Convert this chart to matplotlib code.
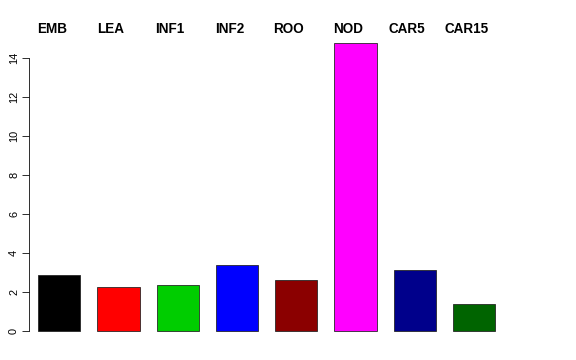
import matplotlib
matplotlib.use("Agg")
import matplotlib.pyplot as plt

categories = ["EMB", "LEA", "INF1", "INF2", "ROO", "NOD", "CAR5", "CAR15"]
values = [2.85, 2.25, 2.34, 3.37, 2.60, 14.80, 3.11, 1.40]
colors = ["#000000", "#FF0000", "#00CD00", "#0000FF", "#8B0000", "#FF00FF", "#00008B", "#006400"]
yticks = [0, 2, 4, 6, 8, 10, 12, 14]

plt.rcParams['font.family'] = ['Liberation Sans', 'DejaVu Sans']

W, H = 576, 360
fig = plt.figure(figsize=(W / 72, H / 72), dpi=72)

# axes in pixel coords
left_px, right_px = 29, 560
bottom_px, top_px = 342.5, 31
ax = fig.add_axes([left_px / W, 1 - bottom_px / H, (right_px - left_px) / W, (bottom_px - top_px) / H])

space, width = 0.4, 1.0
centers = [space + i * (space + width) + width / 2 for i in range(len(values))]
ax.bar(centers, values, width=width, color=colors, edgecolor="#222222", linewidth=0.8)

ax.set_xlim(0.184, 0.184 + (right_px - left_px) / 42.32)
ax.set_ylim(-0.592, 15.392)

for s in ["top", "right", "bottom"]:
    ax.spines[s].set_visible(False)
ax.spines["left"].set_bounds(0, 14)
ax.spines["left"].set_linewidth(0.8)
ax.set_xticks([])
ax.set_yticks(yticks)
ax.set_yticklabels([str(t) for t in yticks], rotation=90, va="center", fontsize=11)
ax.tick_params(axis="y", length=7, width=0.8, pad=3)

for c, name in zip(centers, categories):
    ax.text(c - 0.18, 1 - (29.5 - top_px) / (bottom_px - top_px), name,
            transform=ax.get_xaxis_transform(), ha="center", va="center",
            fontsize=13.5, fontweight="bold", clip_on=False)

fig.savefig("out.png", dpi=72)
